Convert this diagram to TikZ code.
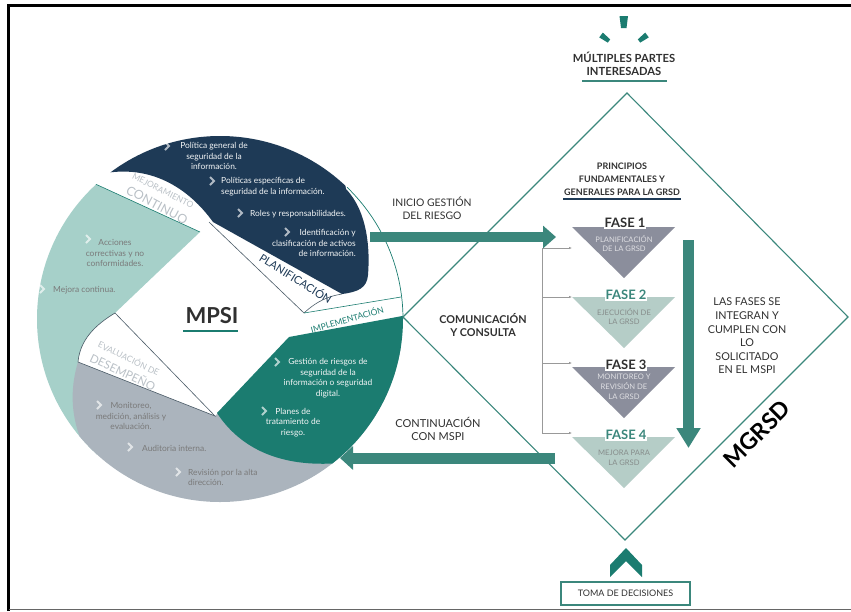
\documentclass[tikz,border=0pt]{standalone}
\usepackage{fontspec}
\setmainfont{Lato}
\usetikzlibrary{arrows.meta}

\definecolor{navy}{HTML}{1E3A56}
\definecolor{tealdark}{HTML}{1B7C70}
\definecolor{mint}{HTML}{A6D0C9}
\definecolor{slate}{HTML}{ABB4BD}
\definecolor{arrowteal}{HTML}{3B877C}
\definecolor{fasegrey}{HTML}{8B8E9C}
\definecolor{fasesage}{HTML}{B5CDC7}
\definecolor{ink}{HTML}{303030}
\definecolor{seam}{HTML}{4B5B67}
\definecolor{stripgrey}{HTML}{B9C0C6}

\tikzset{
    petal/.style={font=\fontsize{8.4}{10.5}\selectfont, align=center, inner sep=0pt},
    lighttext/.style={petal, text=white!86!slate},
    darktext/.style={petal, text=black!52},
    chev/.style={draw=white, draw opacity=0.65, line width=2pt},
    seamline/.style={draw=seam, line width=0.6pt},
    bigarrow/.style={draw=arrowteal, line width=#1},
    caption/.style={font=\fontsize{10.4}{13}\selectfont, text=ink, align=center},
    boldcap/.style={caption, font=\bfseries\fontsize{10.8}{13}\selectfont},
    fasename/.style={font=\bfseries\fontsize{13}{13}\selectfont, fill=white, inner sep=1pt},
    fasesub/.style={font=\fontsize{7.6}{9.8}\selectfont, align=center, inner sep=0pt},
    feed/.style={draw=black!40, line width=0.6pt, -{Latex[length=3pt,width=2.5pt]}},
}
\newcommand{\pchev}[1]{\draw[chev] #1 ++(-3,-4) -- ++(4,4) -- ++(-4,4);}

\begin{document}
\begin{tikzpicture}[x=1pt, y=-1pt]
    \useasboundingbox (0,0) rectangle (851,611);

    \draw[line width=3pt] (8.5,611) -- (8.5,5.5) -- (851,5.5);
    \draw[black!60, line width=1.2pt] (8.5,609.5) -- (851,609.5);

    \begin{scope}
        \clip (220,319) circle (183);
        \fill[mint] (30,154) -- (200,232) -- (115,313) .. controls (95,325) and (80,340) .. (78,362) -- (100,470) -- (20,470) -- (20,154) -- cycle;
        \fill[slate] (78,362) -- (215,416) -- (287,346) -- (440,346) -- (440,560) -- (100,560) -- (90,458) .. controls (72,428) and (68,395) .. (78,362) -- cycle;
        \fill[tealdark] (217,413) -- (289,337) -- (440,309) -- (440,440) -- (340,463) .. controls (280,468) and (240,448) .. (217,413) -- cycle;
        \fill[navy] (40,178) -- (40,100) -- (330,100) -- (346,189) .. controls (368,212) and (370,250) .. (368,275) .. controls (367,288) and (358,292) .. (342,294) -- (213,222) .. controls (190,190) and (150,160) .. (92,176) -- cycle;
        \draw[seamline, draw=tealdark] (30,154) -- (200,232);
        \draw[seamline] (209,222) -- (304,313) .. controls (318,300) and (330,296) .. (342,294);
        \draw[seamline, draw=tealdark] (304,313) -- (401,297);
        \draw[seamline] (115,313) .. controls (95,325) and (80,340) .. (78,362) -- (215,416) -- cycle;
    \end{scope}
    \draw[tealdark, line width=0.7pt] (220,319) ++(-46:183) arc[start angle=-46, end angle=0, radius=183];

    \node[font=\bfseries\fontsize{22}{22}\selectfont, text=ink] (mpsi) at (212,316) {MPSI};
    \draw[tealdark, line width=2.2pt] (183,331) -- (238,331);

    \node[font=\fontsize{8.5}{8.5}\selectfont, text=stripgrey, rotate=-27] (mejora) at (163,191) {MEJORAMIENTO};
    \node[font=\fontsize{12.5}{12.5}\selectfont, text=stripgrey, rotate=-28] (continuo) at (157,205) {CONTINUO};
    \node[font=\fontsize{11}{11}\selectfont, text=navy, rotate=-32] (plan) at (296,278) {PLANIFICACIÓN};
    \node[font=\fontsize{8.5}{8.5}\selectfont, text=tealdark, rotate=16] (impl) at (347,319) {IMPLEMENTACIÓN};
    \node[font=\fontsize{8.5}{8.5}\selectfont, text=stripgrey, rotate=-26] (evalua) at (129,358) {EVALUACIÓN DE};
    \node[font=\fontsize{11.5}{11.5}\selectfont, text=stripgrey, rotate=-25] (desemp) at (123,371.5) {DESEMPEÑO};

    \node[lighttext] (pol) at (214,156) {Política general de\\seguridad de la\\información.};
    \pchev{(168,146)}
    \node[lighttext, anchor=west, align=left] (esp) at (221,186.5) {Políticas específicas de\\seguridad de la información.};
    \pchev{(213,181)}
    \node[lighttext, anchor=west] (roles) at (250,214) {Roles y responsabilidades.};
    \pchev{(241,213)}
    \node[lighttext, anchor=east, align=right] (activos) at (356,243) {Identificación y\\clasificación de activos\\de información.};
    \pchev{(288,232)}
    \node[darktext] (acciones) at (115,253) {Acciones\\correctivas y no\\conformidades.};
    \pchev{(89,239)}
    \node[darktext, anchor=west] (mejcont) at (53,290) {Mejora continua.};
    \pchev{(43,289)}
    \node[darktext] (monitoreo) at (131,416) {Monitoreo,\\medición, análisis y\\evaluación.};
    \pchev{(100,405)}
    \node[darktext, anchor=west] (auditoria) at (142,448) {Auditoria interna.};
    \pchev{(131,447)}
    \node[darktext, anchor=west, align=left] (revision) at (188,477.5) {Revisión por la alta\\dirección.};
    \pchev{(179,472)}
    \node[lighttext] (gestion) at (328,378) {Gestión de riesgos de\\seguridad de la\\información o seguridad\\digital.};
    \pchev{(278,362)}
    \node[lighttext] (planes) at (293,422.5) {Planes de\\tratamiento de\\riesgo.};
    \pchev{(265,411)}

    \coordinate (gtop) at (627,93);
    \coordinate (gleft) at (403,317);
    \coordinate (gbot) at (625,540);
    \coordinate (gright) at (848,317);
    \draw[arrowteal, line width=1.1pt] (gtop) -- (gleft) -- (gbot) -- (gright) -- cycle;

    \fill[tealdark] (619.5,16) -- (628,16) -- (626.5,28) -- (621,28) -- cycle;
    \fill[tealdark] (602.8,32.6) -- (610.2,39.4) -- (607.8,42.6) -- (599.2,37.4) -- cycle;
    \fill[tealdark] (645.2,32.6) -- (637.8,39.4) -- (640.2,42.6) -- (648.8,37.4) -- cycle;
    \node[boldcap, font=\bfseries\fontsize{11.2}{13}\selectfont] (partes) at (624,63.5) {MÚLTIPLES PARTES\\INTERESADAS};
    \draw[arrowteal, line width=2.2pt] (582,81) -- (667,81);
    \node[boldcap, font=\bfseries\fontsize{9}{13}\selectfont] (principios) at (622,179) {PRINCIPIOS\\FUNDAMENTALES Y\\GENERALES PARA LA GRSD};
    \draw[navy, line width=1.8pt] (563,199) -- (681,199);

    \fill[fasegrey] (572,227) -- (675,227) -- (624,278) -- cycle;
    \fill[fasesage] (572,297) -- (675,297) -- (624,348) -- cycle;
    \fill[fasegrey] (572,367) -- (675,367) -- (624,418) -- cycle;
    \fill[fasesage] (572,437) -- (675,437) -- (624,488) -- cycle;
    \node[fasename, text=ink] (fase1) at (625,223) {FASE 1};
    \node[fasesub, text=white!72!fasegrey] (sub1) at (624,243.5) {PLANIFICACIÓN\\DE LA GRSD};
    \node[fasename, text=arrowteal] (fase2) at (626,295) {FASE 2};
    \node[fasesub, text=fasesage!45!black!70] (sub2) at (624,316.5) {EJECUCIÓN DE\\LA GRSD};
    \node[fasename, text=ink] (fase3) at (626,365) {FASE 3};
    \node[fasesub, text=white!72!fasegrey] (sub3) at (624,387) {MONITOREO Y\\REVISIÓN DE\\LA GRSD};
    \node[fasename, text=arrowteal] (fase4) at (626,435) {FASE 4};
    \node[fasesub, text=fasesage!45!black!70] (sub4) at (624,458) {MEJORA PARA\\LA GRSD};

    \coordinate (br1) at (542,248);
    \coordinate (br2) at (542,297);
    \coordinate (br3) at (542,363);
    \coordinate (br4) at (542,433);
    \coordinate (in1) at (572,248);
    \coordinate (in2) at (572,297);
    \coordinate (in3) at (572,363);
    \coordinate (in4) at (572,433);
    \draw[black!40, line width=0.6pt] (br1) -- (br4);
    \draw[feed] (br1) -- (in1);
    \draw[feed] (br2) -- (in2);
    \draw[feed] (br3) -- (in3);
    \draw[feed] (br4) -- (in4);

    \coordinate (inicioA) at (370,237);
    \coordinate (inicioB) at (556,237);
    \draw[bigarrow=10pt, -{Triangle[length=13pt,width=22pt]}] (inicioA) -- (inicioB);
    \coordinate (contA) at (555,458);
    \coordinate (contB) at (340,458);
    \draw[bigarrow=11pt, -{Triangle[length=13pt,width=23pt]}] (contA) -- (contB);
    \coordinate (fasesA) at (688.5,240);
    \coordinate (fasesB) at (688.5,448);
    \draw[bigarrow=11pt, -{Triangle[length=20pt,width=23pt]}] (fasesA) -- (fasesB);

    \node[caption] (inicio) at (432,208.5) {INICIO GESTIÓN\\DEL RIESGO};
    \node[boldcap] (comunica) at (483,325.5) {COMUNICACIÓN\\Y CONSULTA};
    \node[caption, font=\fontsize{11}{13}\selectfont] (continua) at (438,428.5) {CONTINUACIÓN\\CON MSPI};
    \node[caption, font=\fontsize{10.8}{13.6}\selectfont] (integran) at (747,336) {LAS FASES SE\\INTEGRAN Y\\CUMPLEN CON\\LO\\SOLICITADO\\EN EL MSPI};
    \node[font=\bfseries\fontsize{23}{23}\selectfont, rotate=45] (mgrsd) at (757,434) {MGRSD};

    \fill[tealdark] (626,548) -- (642,565) -- (642,577) -- (626,561) -- (610,577) -- (610,565) -- cycle;
    \node[draw=arrowteal, line width=2pt, minimum width=129pt, minimum height=23pt, font=\fontsize{9}{9}\selectfont, text=ink] (toma) at (625.5,593.5) {TOMA DE DECISIONES};

\end{tikzpicture}
\end{document}
